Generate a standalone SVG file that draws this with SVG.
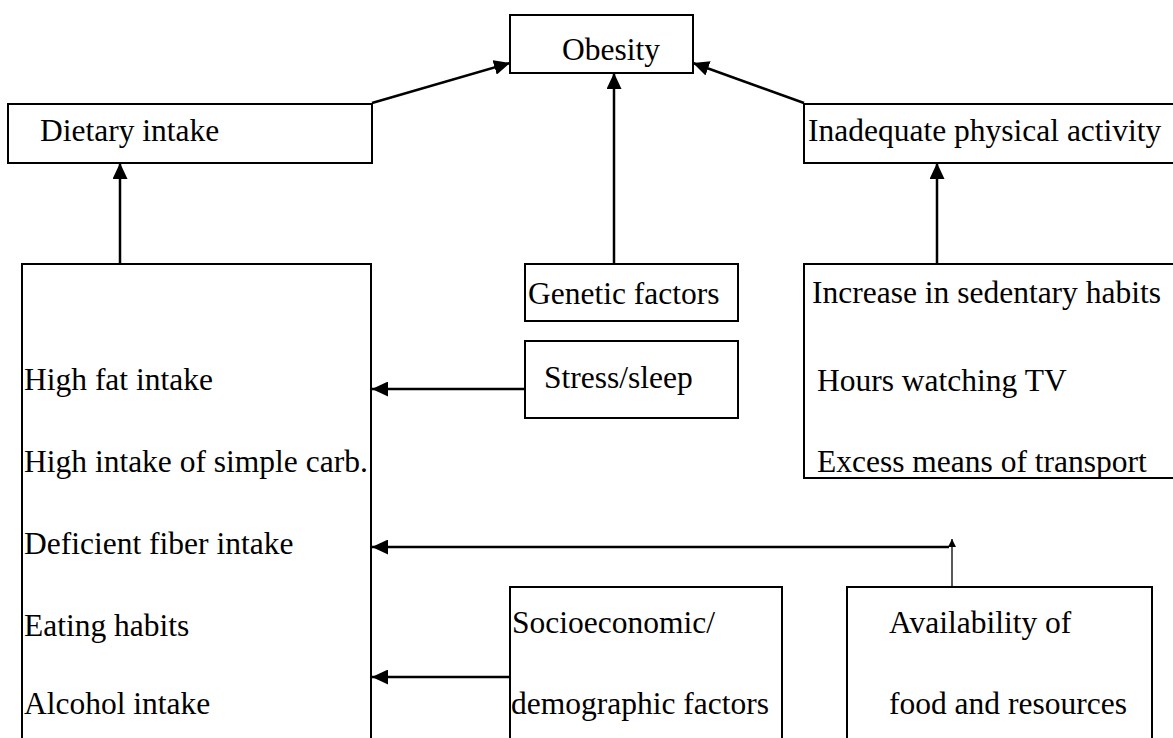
<svg xmlns="http://www.w3.org/2000/svg" width="1173" height="738" viewBox="0 0 1173 738">
<style>
.box{fill:#fff;stroke:#000;stroke-width:2}
.t{font-family:"Liberation Serif","Times New Roman",serif;font-size:31.5px;fill:#000}
.c{fill:none;stroke:#000;stroke-width:2.5}
.thin{fill:none;stroke:#000;stroke-width:1.3}
</style>
<defs>
<marker id="ah" markerUnits="userSpaceOnUse" markerWidth="17" markerHeight="15" refX="16" refY="7.5" orient="auto">
<path d="M0,0 L16,7.5 L0,15 Z" fill="#000"/>
</marker>
<marker id="ahs" markerUnits="userSpaceOnUse" markerWidth="9" markerHeight="9" refX="8" refY="4" orient="auto">
<path d="M0,0 L8,4 L0,8 Z" fill="#000"/>
</marker>
</defs>
<rect width="1173" height="738" fill="#fff"/>
<g id="obesity"><rect class="box" x="510" y="15" width="183" height="58"/><text class="t" x="562" y="60">Obesity</text></g>
<g id="dietary"><rect class="box" x="8" y="104" width="364" height="59"/><text class="t" x="40" y="141">Dietary intake</text></g>
<g id="inadequate"><rect class="box" x="804" y="104" width="380" height="59"/><text class="t" x="808" y="141">Inadequate physical activity</text></g>
<g id="diet-factors"><rect class="box" x="22" y="264" width="349" height="490"/>
<text class="t" x="24" y="390">High fat intake</text>
<text class="t" x="24" y="472">High intake of simple carb.</text>
<text class="t" x="24" y="554">Deficient fiber intake</text>
<text class="t" x="24" y="636">Eating habits</text>
<text class="t" x="24" y="714">Alcohol intake</text></g>
<g id="genetic"><rect class="box" x="525" y="264" width="213" height="57"/><text class="t" x="528" y="304">Genetic factors</text></g>
<g id="stress"><rect class="box" x="525" y="341" width="213" height="77"/><text class="t" x="544" y="388">Stress/sleep</text></g>
<g id="sedentary"><rect class="box" x="804" y="264" width="380" height="214"/>
<text class="t" x="812" y="303">Increase in sedentary habits</text>
<text class="t" x="817" y="391">Hours watching TV</text>
<text class="t" x="817" y="472">Excess means of transport</text></g>
<g id="socio"><rect class="box" x="510" y="587" width="272" height="170"/>
<text class="t" x="512" y="633">Socioeconomic/</text>
<text class="t" x="511" y="714">demographic factors</text></g>
<g id="availability"><rect class="box" x="847" y="587" width="305" height="170"/>
<text class="t" x="889" y="633">Availability of</text>
<text class="t" x="889" y="714">food and resources</text></g>
<g id="connectors">
<line class="c" x1="372" y1="103" x2="510" y2="63" marker-end="url(#ah)"/>
<line class="c" x1="804" y1="103" x2="693" y2="63" marker-end="url(#ah)"/>
<line class="c" x1="614" y1="264" x2="614" y2="73" marker-end="url(#ah)"/>
<line class="c" x1="120" y1="264" x2="120" y2="163" marker-end="url(#ah)"/>
<line class="c" x1="937" y1="264" x2="937" y2="163" marker-end="url(#ah)"/>
<line class="c" x1="525" y1="389" x2="372" y2="389" marker-end="url(#ah)"/>
<line class="thin" x1="952" y1="587" x2="952" y2="539" marker-end="url(#ahs)"/>
<line class="c" x1="949" y1="547" x2="372" y2="547" marker-end="url(#ah)"/>
<line class="c" x1="510" y1="677" x2="372" y2="677" marker-end="url(#ah)"/>
</g>
</svg>
